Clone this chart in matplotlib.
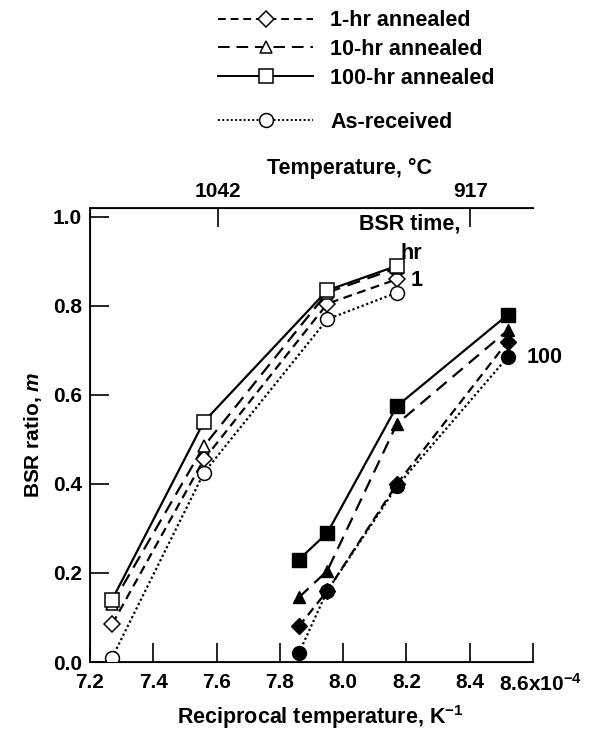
import matplotlib
matplotlib.use("Agg")
import matplotlib.pyplot as plt
from matplotlib.lines import Line2D
from matplotlib.transforms import ScaledTranslation

plt.rcParams["font.family"] = ["Liberation Sans", "DejaVu Sans"]
plt.rcParams["font.weight"] = "bold"
plt.rcParams["axes.labelweight"] = "bold"
plt.rcParams["mathtext.fontset"] = "custom"
plt.rcParams["mathtext.rm"] = "Liberation Sans:bold"
plt.rcParams["mathtext.it"] = "Liberation Sans:italic:bold"

# reciprocal temperature, 1e-4 / K
x_short = [7.27, 7.56, 7.95, 8.17]   # BSR time 1 hr (open symbols)
x_long = [7.86, 7.95, 8.17, 8.52]    # BSR time 100 hr (filled symbols)

anneal_1hr_short = [0.085, 0.455, 0.805, 0.86]
anneal_1hr_long = [0.08, 0.16, 0.40, 0.72]
anneal_10hr_short = [0.13, 0.485, 0.83, 0.885]
anneal_10hr_long = [0.145, 0.205, 0.535, 0.745]
anneal_100hr_short = [0.14, 0.54, 0.835, 0.89]
anneal_100hr_long = [0.23, 0.29, 0.575, 0.78]
as_received_short = [0.01, 0.425, 0.77, 0.83]
as_received_long = [0.02, 0.16, 0.395, 0.685]

x_ticks = [7.2, 7.4, 7.6, 7.8, 8.0, 8.2, 8.4, 8.6]
x_tick_labels = ["7.2", "7.4", "7.6", "7.8", "8.0", "8.2", "8.4", "8.6x10$^{-4}$"]
y_ticks = [0.0, 0.2, 0.4, 0.6, 0.8, 1.0]
top_temps_c = [1042, 917]

series = [
    ("1-hr annealed", anneal_1hr_short, anneal_1hr_long, "D", (0, (4, 2.5)), 8),
    ("10-hr annealed", anneal_10hr_short, anneal_10hr_long, "^", (0, (6, 3.5)), 9),
    ("100-hr annealed", anneal_100hr_short, anneal_100hr_long, "s", "-", 10),
    ("As-received", as_received_short, as_received_long, "o", (0, (1, 1.2)), 10),
]

fig = plt.figure(figsize=(5.94, 7.41), dpi=100)
ax = fig.add_axes([0.1515, 0.1066, 0.7458, 0.6127])

handles = []
labels = []
for label, y_short, y_long, marker, ls, ms in series:
    ax.plot(x_short, y_short, color="black", linestyle=ls, linewidth=1.6,
            marker=marker, markersize=ms, markerfacecolor="white",
            markeredgecolor="black", markeredgewidth=1.1, zorder=3)
    ax.plot(x_long, y_long, color="black", linestyle=ls, linewidth=1.6,
            marker=marker, markersize=ms, markerfacecolor="black",
            markeredgecolor="black", zorder=3)
    handles.append(Line2D([], [], color="black", linestyle=ls, linewidth=1.4,
                          marker=marker, markersize=ms, markerfacecolor="white",
                          markeredgecolor="black", markeredgewidth=1.1))
    labels.append(label)

legend_kw = dict(frameon=False, fontsize=15.5, handlelength=4.4,
                 handletextpad=0.8, labelspacing=0.35)
fig.legend(handles[:3], labels[:3], loc="upper left",
           bbox_to_anchor=(0.335, 1.012), **legend_kw)
fig.legend(handles[3:], labels[3:], loc="center left",
           bbox_to_anchor=(0.335, 1 - 122 / 741), **legend_kw)

ax.set_xlim(7.2, 8.6)
ax.set_ylim(0, 1.02)
ax.set_xticks(x_ticks)
ax.set_xticklabels(x_tick_labels)
ax.set_yticks(y_ticks)
ax.set_yticklabels([f"{v:.1f}" for v in y_ticks])
ax.tick_params(direction="in", length=14, width=1.2, labelsize=15, pad=6)
ax.tick_params(axis="x", pad=8)
ax.spines["right"].set_visible(False)
for side in ["left", "bottom", "top"]:
    ax.spines[side].set_linewidth(1.3)

# nudge the last label (with exponent) a little to the right, as printed
last = ax.get_xticklabels()[-1]
last.set_transform(last.get_transform() + ScaledTranslation(0.07, 0, fig.dpi_scale_trans))

ax.set_xlabel("Reciprocal temperature, K$^{-1}$", fontsize=15.5, labelpad=6)
ax.xaxis.label.set_x(0.52)
ax.set_ylabel("BSR ratio, $m$", fontsize=15, labelpad=6)

top = ax.twiny()
top.set_xlim(ax.get_xlim())
top.set_xticks([1e4 / (t + 273.15) for t in top_temps_c])
top.set_xticklabels([str(t) for t in top_temps_c])
top.tick_params(direction="in", length=14, width=1.2, labelsize=15, pad=5)
top.spines["right"].set_visible(False)
top.set_xlabel("Temperature, \u00b0C", fontsize=15.5, labelpad=6)
top.xaxis.label.set_x(0.585)

ax.text(8.05, 0.984, "BSR time,", fontsize=15.5, ha="left", va="center")
ax.text(8.18, 0.918, "hr", fontsize=15.5, ha="left", va="center")
ax.text(8.214, 0.856, "1", fontsize=15.5, ha="left", va="center")
ax.text(8.58, 0.685, "100", fontsize=15.5, ha="left", va="center")

fig.savefig("out.png", dpi=100)
